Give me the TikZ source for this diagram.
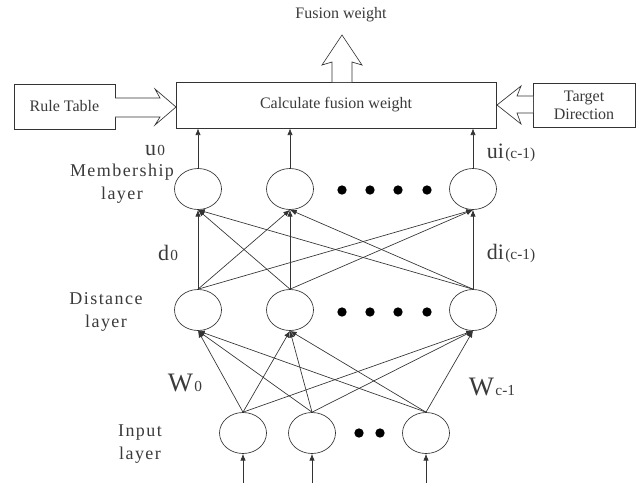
\documentclass[tikz,border=0pt]{standalone}
\usepackage{fontspec}
\setmainfont{Liberation Serif}
\usetikzlibrary{shapes.geometric, arrows.meta}
\definecolor{inkColor}{HTML}{3A3A3A}
\definecolor{lineColor}{HTML}{333333}

\newcommand{\idxlabel}[3]{{\fontsize{#1}{#1}\selectfont #2}\hspace{1pt}{\fontsize{11.5}{12}\selectfont #3}}

\tikzset{
  neuron/.style={draw=lineColor, ellipse, line width=0.5pt, minimum width=35.25pt, minimum height=30.75pt, inner sep=0pt},
  block/.style={draw=lineColor, rectangle, line width=0.5pt, inner sep=0pt, text=inkColor, font=\fontsize{12}{13.5}\selectfont},
  conn/.style={-{Latex[length=5pt,width=4pt]}, draw=lineColor, line width=0.5pt},
  layertext/.style={align=center, text=inkColor, font=\fontsize{13.5}{17}\selectfont\addfontfeature{LetterSpace=8}},
  idx/.style={text=inkColor, inner sep=1pt},
  dot/.style={fill=black, circle, inner sep=0pt, minimum size=7pt},
  hollow/.style={draw=lineColor, fill=white, line width=0.5pt, line join=miter},
}

\begin{document}
\begin{tikzpicture}[x=0.75pt, y=-0.75pt]
    \useasboundingbox (0,0) rectangle (641,494);

    % top row
    \node[block, minimum width=240pt, minimum height=34.5pt] (calc) at (336,105) {Calculate fusion weight};
    \node[block, minimum width=75.75pt, minimum height=33.75pt] (rule) at (64.5,106.5) {Rule Table};
    \node[block, minimum width=76.5pt, minimum height=33pt, align=center] (target) at (584,105) {Target\\Direction};
    \node[text=inkColor, font=\fontsize{12}{14}\selectfont] (fusion) at (341,15) {Fusion weight};

    \draw[hollow] (115,98) -- (160,98) -- (155,89) -- (176,107) -- (155,125) -- (160,117) -- (115,117);
    \draw[hollow] (533,96) -- (517,96) -- (521,86) -- (497,105) -- (521,124) -- (517,113) -- (533,113);
    \draw[hollow] (332,82) -- (332,62) -- (322,65) -- (342,35) -- (362,65) -- (352,62) -- (352,82);

    % layers
    \node[neuron] (m0) at (198,189) {};
    \node[neuron] (m1) at (290,189) {};
    \node[neuron] (mc) at (473,189) {};
    \node[neuron] (d0) at (198,310) {};
    \node[neuron] (d1) at (290,310) {};
    \node[neuron] (dc) at (473,310) {};
    \node[neuron] (in0) at (243,433) {};
    \node[neuron] (in1) at (312,433) {};
    \node[neuron] (inc) at (426,433) {};

    \foreach \x in {342,370,398,427} {
        \node[dot] (mdot\x) at (\x,190) {};
        \node[dot] (ddot\x) at (\x,312) {};
    }
    \foreach \x in {359,380}
        \node[dot] (idot\x) at (\x,433) {};

    % connections
    \foreach \s in {d0,d1,dc}
        \foreach \t in {m0,m1,mc}
            \draw[conn] (\s.north) -- (\t.south);
    \foreach \s in {in0,in1,inc}
        \foreach \t in {d0,d1,dc}
            \draw[conn] (\s.north) -- (\t.south);
    \foreach \t in {m0,m1,mc}
        \draw[conn] (\t.north) -- (\t.north |- calc.south);

    \coordinate (bottom) at (0,483);
    \foreach \t in {in0,in1,inc}
        \draw[conn] (\t.south |- bottom) -- (\t.south);

    % labels
    \node[layertext] (mlabel) at (122,184) {Membership\\layer};
    \node[layertext] (dlabel) at (106,312) {Distance\\layer};
    \node[layertext] (ilabel) at (140,444) {Input\\layer};

    \node[idx] (u0) at (155,150) {\idxlabel{16.5}{u}{0}};
    \node[idx] (uc) at (511,153) {\idxlabel{16.5}{ui}{(c-1)}};
    \node[idx] (d0lbl) at (168,253) {\idxlabel{16.5}{d}{0}};
    \node[idx] (dclbl) at (511,253) {\idxlabel{16.5}{di}{(c-1)}};
    \node[idx] (w0) at (185,383) {\idxlabel{20}{W}{0}};
    \node[idx] (wc) at (492,387) {\idxlabel{20}{W}{c-1}};
\end{tikzpicture}
\end{document}
